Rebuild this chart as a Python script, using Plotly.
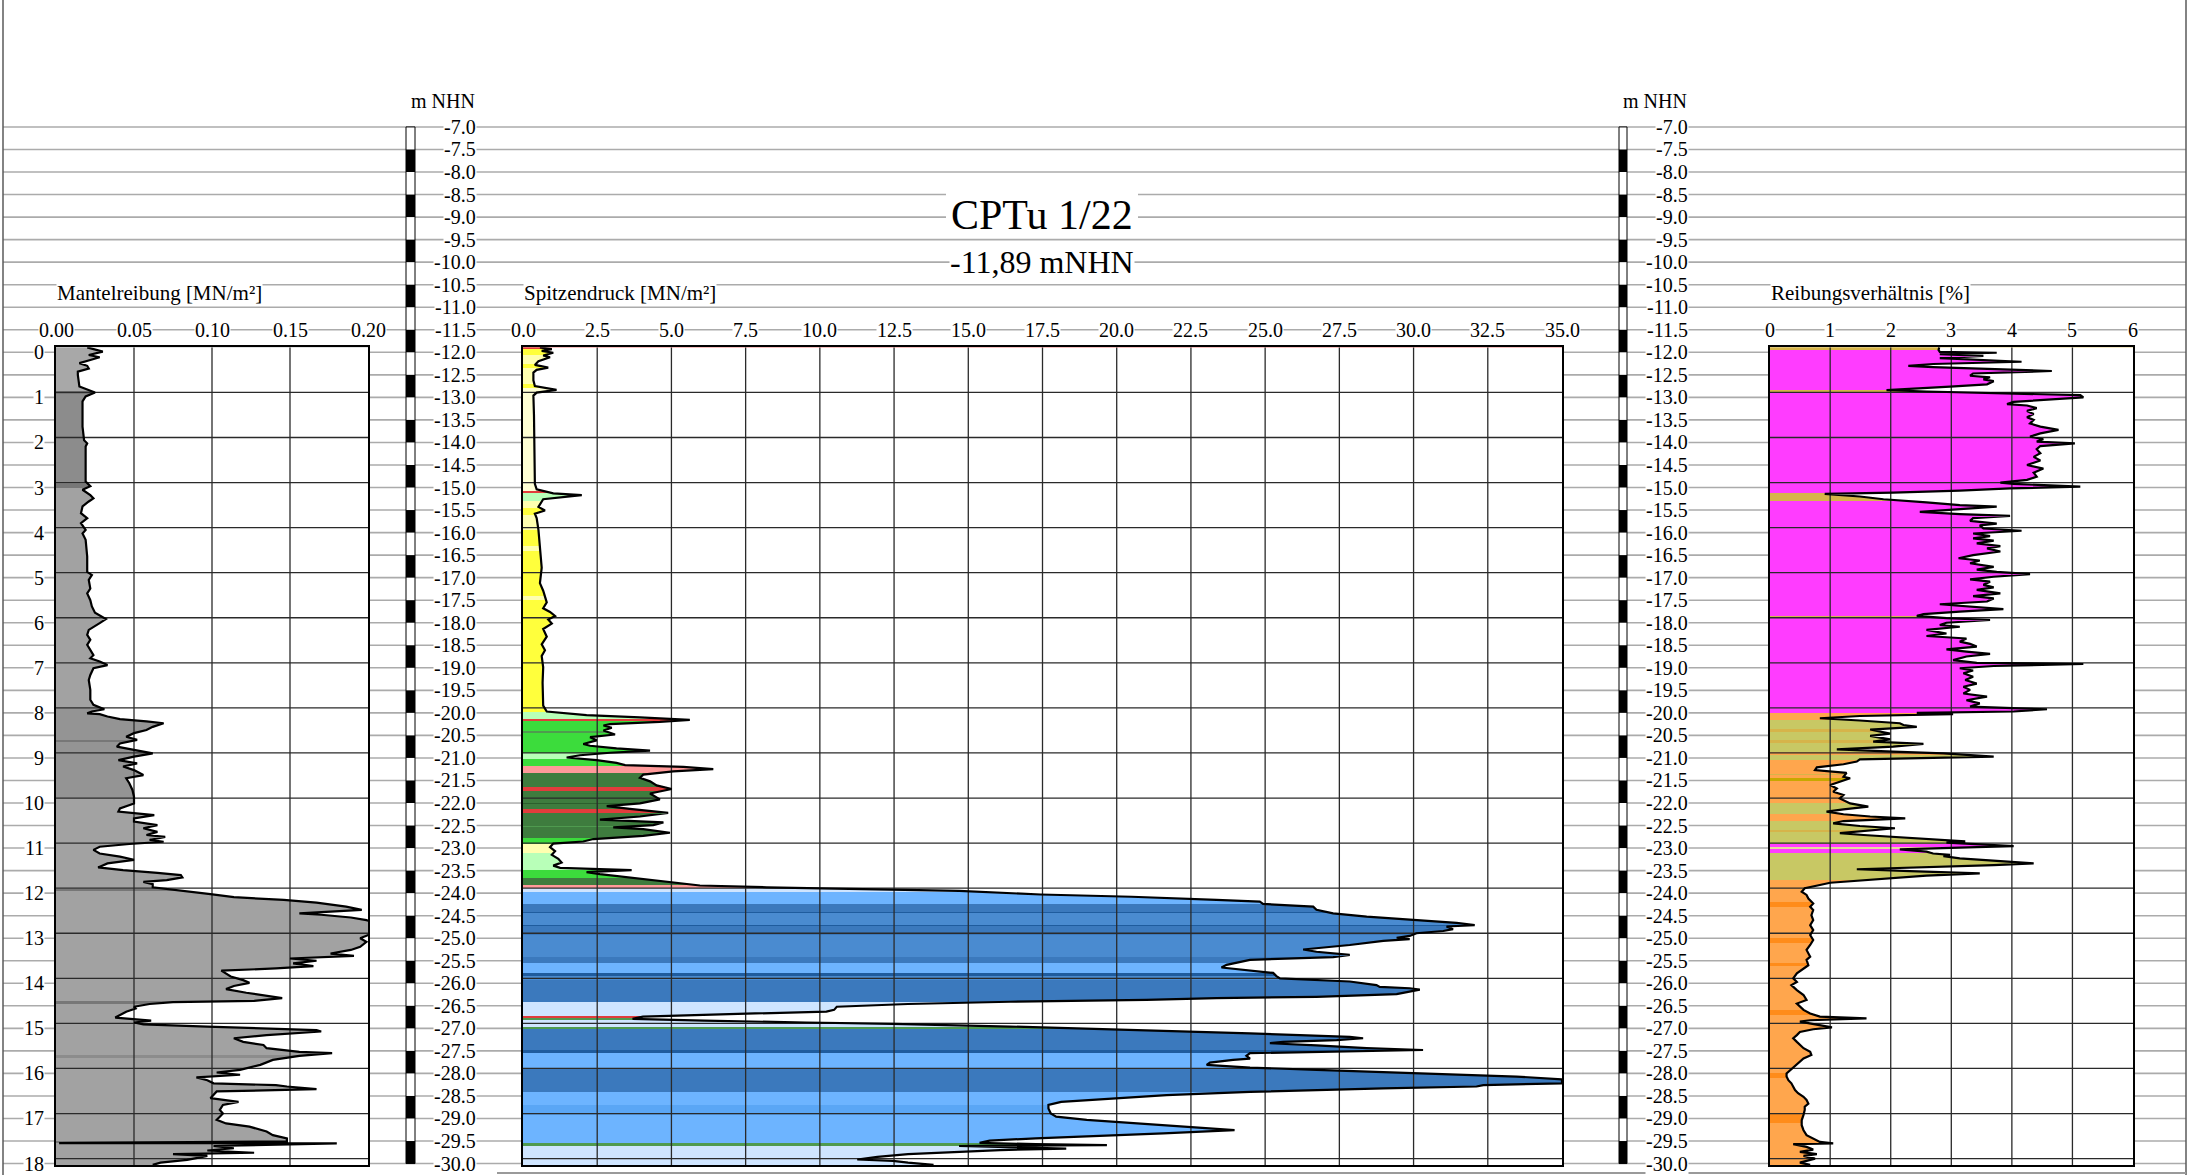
import plotly.graph_objects as go

# ---------------------------------------------------------------- data
START_ELEV = -11.89   # mNHN at depth 0 (ground level of CPTu 1/22)
END_ELEV = -30.03     # bottom of the log

# Mantelreibung fs [MN/m²] : (elevation mNHN, value)
fs_points = [
    (-11.89, 0.020), (-11.985, 0.030), (-12.06, 0.021), (-12.11, 0.028), (-12.17, 0.022), (-12.24, 0.015),
    (-12.30, 0.020), (-12.36, 0.021), (-12.43, 0.014), (-12.50, 0.014), (-12.76, 0.015), (-12.82, 0.020),
    (-12.89, 0.025), (-12.98, 0.019), (-13.09, 0.017), (-13.65, 0.017), (-13.95, 0.018), (-14.02, 0.020),
    (-14.09, 0.019), (-14.68, 0.019), (-14.87, 0.019), (-14.97, 0.022), (-15.05, 0.017), (-15.17, 0.022),
    (-15.24, 0.024), (-15.31, 0.021), (-15.42, 0.017), (-15.57, 0.016), (-15.68, 0.020), (-15.79, 0.016),
    (-15.94, 0.019), (-16.02, 0.017), (-16.16, 0.019), (-16.53, 0.020), (-16.87, 0.020), (-16.94, 0.023),
    (-17.05, 0.021), (-17.24, 0.022), (-17.35, 0.020), (-17.50, 0.022), (-17.64, 0.023), (-17.78, 0.025),
    (-17.87, 0.030), (-17.92, 0.032), (-18.01, 0.028), (-18.09, 0.024), (-18.16, 0.021), (-18.27, 0.020),
    (-18.38, 0.022), (-18.49, 0.020), (-18.60, 0.022), (-18.72, 0.024), (-18.79, 0.022), (-18.86, 0.028),
    (-18.94, 0.033), (-19.01, 0.024), (-19.16, 0.022), (-19.27, 0.021), (-19.49, 0.022), (-19.71, 0.022),
    (-19.82, 0.024), (-19.92, 0.031), (-19.97, 0.023), (-20.01, 0.020), (-20.03, 0.028), (-20.08, 0.033),
    (-20.14, 0.041), (-20.16, 0.050), (-20.19, 0.058), (-20.23, 0.069), (-20.31, 0.062), (-20.38, 0.058),
    (-20.45, 0.050), (-20.53, 0.045), (-20.60, 0.052), (-20.68, 0.041), (-20.75, 0.039), (-20.82, 0.050),
    (-20.90, 0.062), (-20.97, 0.050), (-21.05, 0.040), (-21.12, 0.052), (-21.19, 0.043), (-21.27, 0.050),
    (-21.38, 0.056), (-21.45, 0.045), (-21.56, 0.047), (-21.71, 0.049), (-21.86, 0.050), (-22.01, 0.050),
    (-22.12, 0.041), (-22.19, 0.040), (-22.27, 0.063), (-22.34, 0.050), (-22.41, 0.050), (-22.49, 0.065),
    (-22.56, 0.056), (-22.64, 0.065), (-22.71, 0.058), (-22.75, 0.070), (-22.82, 0.060), (-22.86, 0.069),
    (-22.91, 0.047), (-22.97, 0.028), (-23.04, 0.024), (-23.12, 0.028), (-23.19, 0.041), (-23.26, 0.050),
    (-23.34, 0.033), (-23.43, 0.027), (-23.49, 0.043), (-23.55, 0.065), (-23.60, 0.080), (-23.65, 0.081),
    (-23.71, 0.071), (-23.75, 0.056), (-23.80, 0.062), (-23.87, 0.062), (-23.92, 0.075), (-23.97, 0.088),
    (-24.02, 0.099), (-24.09, 0.114), (-24.15, 0.146), (-24.21, 0.167), (-24.30, 0.186), (-24.37, 0.196),
    (-24.45, 0.156), (-24.48, 0.170), (-24.54, 0.189), (-24.60, 0.199), (-24.67, 0.205), (-24.89, 0.203),
    (-25.00, 0.195), (-25.08, 0.199), (-25.19, 0.195), (-25.26, 0.189), (-25.34, 0.176), (-25.39, 0.191),
    (-25.45, 0.150), (-25.50, 0.167), (-25.56, 0.152), (-25.62, 0.165), (-25.67, 0.141), (-25.72, 0.106),
    (-25.78, 0.109), (-25.85, 0.112), (-25.93, 0.120), (-25.99, 0.124), (-26.06, 0.114), (-26.13, 0.109),
    (-26.21, 0.122), (-26.28, 0.135), (-26.33, 0.145), (-26.39, 0.127), (-26.42, 0.075), (-26.46, 0.060),
    (-26.52, 0.050), (-26.56, 0.051), (-26.63, 0.045), (-26.76, 0.038), (-26.80, 0.054), (-26.83, 0.061),
    (-26.87, 0.050), (-26.91, 0.056), (-26.96, 0.097), (-27.00, 0.135), (-27.04, 0.167), (-27.07, 0.170),
    (-27.15, 0.135), (-27.22, 0.114), (-27.30, 0.120), (-27.37, 0.133), (-27.44, 0.135), (-27.52, 0.156),
    (-27.55, 0.177), (-27.61, 0.156), (-27.70, 0.139), (-27.81, 0.131), (-27.92, 0.118), (-27.98, 0.103),
    (-28.03, 0.118), (-28.09, 0.090), (-28.15, 0.097), (-28.22, 0.101), (-28.26, 0.141), (-28.29, 0.148),
    (-28.35, 0.167), (-28.40, 0.103), (-28.48, 0.101), (-28.55, 0.099), (-28.63, 0.117), (-28.70, 0.107),
    (-28.81, 0.105), (-28.89, 0.107), (-28.96, 0.105), (-29.03, 0.103), (-29.11, 0.109), (-29.18, 0.124),
    (-29.29, 0.135), (-29.37, 0.139), (-29.44, 0.148), (-29.51, 0.148), (-29.545, 0.002), (-29.55, 0.180),
    (-29.61, 0.101), (-29.66, 0.114), (-29.71, 0.097), (-29.76, 0.127), (-29.79, 0.075), (-29.83, 0.097),
    (-29.88, 0.090), (-29.92, 0.084), (-29.98, 0.067), (-30.03, 0.062),
]

# Spitzendruck qc [MN/m²]
qc_points = [
    (-11.89, 0.57), (-11.93, 0.97), (-11.97, 0.63), (-12.01, 1.02), (-12.07, 0.68), (-12.11, 0.91),
    (-12.20, 0.52), (-12.28, 0.40), (-12.34, 0.85), (-12.39, 0.46), (-12.45, 0.35), (-12.62, 0.35),
    (-12.75, 0.40), (-12.835, 1.13), (-12.895, 0.46), (-12.96, 0.35), (-13.39, 0.37), (-14.24, 0.40),
    (-14.92, 0.40), (-15.04, 0.46), (-15.13, 1.02), (-15.17, 1.98), (-15.21, 1.30), (-15.26, 0.68),
    (-15.43, 0.52), (-15.51, 0.74), (-15.58, 0.40), (-15.68, 0.46), (-15.94, 0.52), (-16.36, 0.57),
    (-16.78, 0.63), (-17.12, 0.57), (-17.29, 0.68), (-17.55, 0.80), (-17.68, 0.68), (-17.76, 0.91),
    (-17.85, 1.08), (-17.93, 0.85), (-18.02, 0.97), (-18.14, 0.68), (-18.31, 0.80), (-18.48, 0.63),
    (-18.61, 0.74), (-18.74, 0.63), (-18.99, 0.68), (-19.33, 0.66), (-19.84, 0.68), (-19.97, 0.80),
    (-20.05, 2.14), (-20.10, 3.94), (-20.155, 5.62), (-20.20, 4.61), (-20.25, 2.93), (-20.28, 2.71),
    (-20.33, 2.99), (-20.39, 2.71), (-20.48, 3.10), (-20.54, 2.26), (-20.61, 2.48), (-20.69, 2.03),
    (-20.73, 2.26), (-20.79, 3.15), (-20.84, 4.28), (-20.885, 2.93), (-20.94, 1.92), (-20.99, 1.47),
    (-21.05, 2.48), (-21.11, 3.15), (-21.16, 3.44), (-21.20, 5.40), (-21.25, 6.41), (-21.30, 5.06),
    (-21.37, 4.05), (-21.44, 3.94), (-21.52, 4.28), (-21.61, 4.50), (-21.69, 5.01), (-21.79, 4.28),
    (-21.88, 4.50), (-21.92, 4.61), (-22.01, 3.94), (-22.07, 2.82), (-22.13, 3.60), (-22.22, 4.89),
    (-22.30, 3.94), (-22.37, 2.59), (-22.43, 4.73), (-22.49, 4.39), (-22.54, 3.04), (-22.58, 4.05),
    (-22.66, 4.95), (-22.73, 4.05), (-22.80, 2.37), (-22.855, 2.03), (-22.90, 1.02), (-22.98, 0.91),
    (-23.07, 1.08), (-23.15, 0.97), (-23.24, 1.19), (-23.32, 1.30), (-23.39, 1.02), (-23.44, 1.25),
    (-23.49, 3.66), (-23.535, 2.14), (-23.58, 2.59), (-23.66, 3.72), (-23.75, 4.84), (-23.83, 5.96),
    (-23.87, 8.21), (-23.92, 12.70), (-23.95, 14.69), (-24.03, 17.44), (-24.08, 20.50), (-24.15, 23.36),
    (-24.19, 24.82), (-24.24, 24.93), (-24.30, 26.62), (-24.37, 26.73), (-24.45, 27.29), (-24.52, 28.42),
    (-24.60, 30.10), (-24.66, 31.45), (-24.71, 32.06), (-24.74, 31.11), (-24.80, 31.33), (-24.84, 31.00),
    (-24.89, 30.10), (-24.95, 29.87), (-24.99, 29.43), (-25.02, 29.87), (-25.06, 28.98), (-25.15, 27.85),
    (-25.25, 26.28), (-25.30, 26.73), (-25.37, 27.85), (-25.42, 27.29), (-25.48, 24.49), (-25.59, 23.70),
    (-25.65, 23.53), (-25.71, 24.49), (-25.77, 25.27), (-25.84, 25.38), (-25.89, 25.50), (-25.96, 27.85),
    (-26.04, 28.75), (-26.08, 28.86), (-26.11, 29.87), (-26.14, 30.21), (-26.19, 29.76), (-26.24, 29.43),
    (-26.30, 26.73), (-26.33, 23.36), (-26.37, 21.00), (-26.41, 16.41), (-26.46, 12.97), (-26.52, 10.57),
    (-26.59, 10.48), (-26.63, 10.22), (-26.67, 7.82), (-26.71, 5.24), (-26.74, 4.04), (-26.79, 3.69),
    (-26.83, 6.10), (-26.87, 9.54), (-26.90, 12.46), (-26.96, 16.41), (-27.02, 19.85), (-27.07, 22.50),
    (-27.11, 24.49), (-27.15, 26.17), (-27.19, 27.85), (-27.22, 28.30), (-27.26, 27.41), (-27.30, 25.61),
    (-27.33, 25.16), (-27.38, 26.73), (-27.44, 28.42), (-27.48, 30.32), (-27.52, 26.73), (-27.55, 24.49),
    (-27.61, 24.37), (-27.67, 24.49), (-27.70, 23.92), (-27.76, 23.14), (-27.81, 23.03), (-27.87, 24.49),
    (-27.92, 26.73), (-28.00, 30.10), (-28.07, 33.47), (-28.13, 35.00), (-28.22, 35.00), (-28.26, 32.35),
    (-28.29, 32.12), (-28.33, 28.98), (-28.41, 24.49), (-28.48, 21.68), (-28.55, 19.85), (-28.63, 18.13),
    (-28.70, 17.70), (-28.78, 17.70), (-28.89, 17.78), (-28.96, 17.96), (-29.03, 18.99), (-29.11, 20.71),
    (-29.18, 22.42), (-29.26, 23.97), (-29.33, 21.57), (-29.39, 18.99), (-29.44, 17.27), (-29.49, 15.72),
    (-29.54, 15.38), (-29.57, 17.27), (-29.59, 19.67), (-29.61, 14.69), (-29.64, 16.41), (-29.67, 18.30),
    (-29.70, 16.07), (-29.74, 14.69), (-29.79, 12.97), (-29.85, 11.94), (-29.91, 11.26), (-29.94, 12.46),
    (-29.98, 12.97), (-30.03, 13.83),
]

# Reibungsverhältnis Rf [%]
rf_points = [
    (-11.89, 2.80), (-11.95, 2.79), (-11.99, 2.81), (-12.01, 3.75), (-12.04, 2.81), (-12.08, 3.53),
    (-12.13, 2.81), (-12.21, 4.16), (-12.26, 2.70), (-12.30, 2.29), (-12.33, 2.70), (-12.38, 3.70),
    (-12.415, 4.66), (-12.47, 3.36), (-12.52, 3.31), (-12.555, 3.64), (-12.60, 3.53), (-12.64, 3.70),
    (-12.67, 3.64), (-12.71, 3.59), (-12.76, 2.98), (-12.80, 2.32), (-12.84, 1.93), (-12.87, 2.59),
    (-12.91, 4.03), (-12.95, 5.13), (-13.00, 5.18), (-13.04, 4.69), (-13.10, 4.03), (-13.15, 3.92),
    (-13.18, 4.25), (-13.24, 4.41), (-13.30, 4.25), (-13.37, 4.36), (-13.44, 4.25), (-13.50, 4.36),
    (-13.58, 4.30), (-13.65, 4.47), (-13.72, 4.77), (-13.80, 4.47), (-13.87, 4.30), (-13.93, 4.52),
    (-13.98, 4.41), (-14.02, 5.04), (-14.08, 4.47), (-14.15, 4.41), (-14.24, 4.47), (-14.32, 4.36),
    (-14.40, 4.47), (-14.50, 4.25), (-14.58, 4.52), (-14.67, 4.36), (-14.76, 4.41), (-14.83, 4.25),
    (-14.89, 3.81), (-14.92, 4.03), (-14.98, 5.13), (-15.02, 3.97), (-15.07, 3.14), (-15.115, 2.04),
    (-15.14, 0.91), (-15.20, 1.49), (-15.26, 1.88), (-15.33, 2.59), (-15.39, 3.14), (-15.425, 3.75),
    (-15.485, 3.14), (-15.54, 2.48), (-15.59, 3.14), (-15.63, 3.97), (-15.68, 3.36), (-15.74, 3.31),
    (-15.80, 3.75), (-15.84, 3.47), (-15.91, 3.53), (-15.96, 4.16), (-16.02, 3.36), (-16.08, 3.64),
    (-16.13, 3.36), (-16.18, 3.70), (-16.24, 3.42), (-16.30, 3.81), (-16.35, 3.59), (-16.42, 3.81),
    (-16.50, 3.36), (-16.57, 3.12), (-16.62, 3.47), (-16.68, 3.31), (-16.76, 3.70), (-16.82, 3.42),
    (-16.87, 3.75), (-16.92, 4.30), (-16.98, 3.70), (-17.04, 3.31), (-17.09, 3.64), (-17.16, 3.53),
    (-17.215, 3.70), (-17.27, 3.42), (-17.35, 3.81), (-17.41, 3.36), (-17.46, 3.70), (-17.53, 3.59),
    (-17.59, 2.81), (-17.64, 3.36), (-17.70, 3.86), (-17.755, 3.14), (-17.81, 2.54), (-17.85, 2.43),
    (-17.90, 2.92), (-17.94, 3.64), (-18.00, 2.92), (-18.05, 2.81), (-18.09, 3.14), (-18.16, 2.59),
    (-18.24, 2.92), (-18.295, 2.59), (-18.35, 3.25), (-18.42, 3.14), (-18.47, 3.31), (-18.53, 3.42),
    (-18.59, 2.92), (-18.64, 3.25), (-18.69, 3.64), (-18.75, 3.25), (-18.83, 3.03), (-18.89, 3.42),
    (-18.916, 5.18), (-18.96, 3.70), (-19.01, 3.14), (-19.06, 3.36), (-19.12, 3.20), (-19.20, 3.36),
    (-19.27, 3.23), (-19.35, 3.42), (-19.42, 3.20), (-19.49, 3.31), (-19.57, 3.20), (-19.64, 3.59),
    (-19.72, 3.25), (-19.79, 3.47), (-19.86, 3.31), (-19.92, 4.58), (-19.97, 4.03), (-20.00, 2.43),
    (-20.026, 3.03), (-20.07, 1.49), (-20.12, 0.83), (-20.17, 1.49), (-20.23, 2.15), (-20.27, 2.21),
    (-20.31, 2.43), (-20.37, 1.66), (-20.46, 1.99), (-20.51, 1.66), (-20.59, 1.99), (-20.64, 1.71),
    (-20.69, 2.54), (-20.75, 2.04), (-20.81, 1.11), (-20.86, 2.04), (-20.90, 2.87), (-20.97, 3.70),
    (-21.03, 1.49), (-21.08, 1.44), (-21.14, 1.22), (-21.21, 0.78), (-21.27, 0.75), (-21.33, 1.27),
    (-21.42, 1.22), (-21.45, 1.33), (-21.53, 1.16), (-21.60, 1.00), (-21.68, 1.11), (-21.75, 1.05),
    (-21.82, 1.22), (-21.90, 1.16), (-22.01, 1.33), (-22.08, 1.63), (-22.14, 1.22), (-22.19, 0.94),
    (-22.25, 1.22), (-22.30, 1.66), (-22.34, 2.24), (-22.40, 1.22), (-22.45, 1.05), (-22.51, 1.49),
    (-22.56, 2.07), (-22.62, 1.60), (-22.67, 1.16), (-22.71, 1.55), (-22.75, 2.04), (-22.79, 2.59),
    (-22.82, 2.92), (-22.85, 3.23), (-22.88, 2.92), (-22.92, 3.47), (-22.955, 4.03), (-22.98, 3.42),
    (-23.03, 2.15), (-23.08, 2.59), (-23.12, 2.70), (-23.15, 2.98), (-23.18, 2.87), (-23.23, 3.14),
    (-23.28, 3.70), (-23.34, 4.36), (-23.38, 3.70), (-23.43, 2.59), (-23.47, 1.44), (-23.51, 2.32),
    (-23.56, 3.47), (-23.61, 2.59), (-23.67, 1.93), (-23.72, 1.49), (-23.77, 1.00), (-23.82, 0.83),
    (-23.89, 0.58), (-23.97, 0.53), (-24.04, 0.61), (-24.12, 0.64), (-24.23, 0.72), (-24.30, 0.67),
    (-24.375, 0.72), (-24.49, 0.69), (-24.60, 0.72), (-24.71, 0.67), (-24.82, 0.72), (-24.93, 0.67),
    (-25.04, 0.72), (-25.15, 0.67), (-25.26, 0.61), (-25.41, 0.67), (-25.48, 0.61), (-25.60, 0.64),
    (-25.67, 0.56), (-25.78, 0.45), (-25.89, 0.39), (-25.97, 0.45), (-26.04, 0.36), (-26.15, 0.45),
    (-26.26, 0.56), (-26.37, 0.61), (-26.45, 0.45), (-26.52, 0.50), (-26.59, 0.56), (-26.67, 0.67),
    (-26.74, 0.83), (-26.78, 1.60), (-26.82, 0.67), (-26.85, 0.50), (-26.93, 0.83), (-26.98, 1.03),
    (-27.02, 0.72), (-27.08, 0.50), (-27.15, 0.45), (-27.22, 0.39), (-27.30, 0.45), (-27.37, 0.50),
    (-27.44, 0.56), (-27.52, 0.67), (-27.59, 0.69), (-27.67, 0.56), (-27.74, 0.50), (-27.81, 0.45),
    (-27.89, 0.39), (-28.00, 0.28), (-28.07, 0.28), (-28.15, 0.31), (-28.22, 0.36), (-28.30, 0.39),
    (-28.37, 0.42), (-28.44, 0.47), (-28.52, 0.56), (-28.59, 0.61), (-28.67, 0.64), (-28.74, 0.58),
    (-28.81, 0.58), (-28.92, 0.56), (-29.04, 0.53), (-29.15, 0.53), (-29.26, 0.56), (-29.37, 0.61),
    (-29.44, 0.72), (-29.52, 0.83), (-29.55, 1.05), (-29.57, 0.39), (-29.63, 0.61), (-29.69, 0.72),
    (-29.74, 0.50), (-29.79, 0.78), (-29.83, 0.56), (-29.89, 0.75), (-29.94, 0.61), (-29.98, 0.50),
    (-30.03, 0.67),
]

# soil-classification colour bands (band i spans edges[i] .. edges[i+1])
COL = {
    'R': '#e23c3c', 'Y': '#ffff3c', 'LY': '#ffffb0', 'PY': '#ffffd4', 'PG': '#b8ffb8',
    'G': '#3cdc3c', 'MG': '#4f9a4f', 'DG': '#3e7c3e', 'DDG': '#2d5f2d', 'PK': '#ff9a9a',
    'PB': '#cfe5ff', 'LB': '#6db4ff', 'SB': '#5aa6f5', 'MB': '#4a8bd0', 'DB': '#3b79bd', 'NB': '#1f5c9e',
    'M': '#ff3cff', 'T': '#d6b44a', 'OL': '#c8c864', 'AU': '#c8a800', 'LK': '#e8d8a0',
    'O': '#ffa64d', 'DO': '#ff8c1a',
    'G1': '#a8a8a8', 'G2': '#8c8c8c', 'G3': '#777777', 'G4': '#a2a2a2', 'G5': '#949494',
}

fs_band_edges = [-11.89, -12.85, -12.92, -14.92, -15.00, -19.90, -20.60, -20.65, -21.90, -23.90, -23.95,
                 -26.40, -26.45, -27.60, -27.65, -29.50, -29.55, -30.03]
fs_band_classes = ['G1', 'G3', 'G2', 'G3', 'G4', 'G5', 'G3', 'G5', 'G4', 'G3', 'G4', 'G3', 'G4', 'G2', 'G4',
                   'G3', 'G4']

qc_band_edges = [-11.89, -11.93, -12.05, -12.25, -12.35, -12.70, -12.80, -15.08, -15.13, -15.30, -15.45,
                 -15.60, -15.94, -16.30, -16.40, -17.40, -17.50, -19.97, -20.14, -20.18, -20.40, -20.45,
                 -20.90, -21.03, -21.18, -21.34, -21.64, -21.73, -22.00, -22.03, -22.14, -22.22, -22.50,
                 -22.53, -22.77, -22.90, -23.11, -23.49, -23.66, -23.83, -23.88, -23.97, -24.23, -24.42,
                 -24.45, -24.71, -24.74, -24.93, -25.41, -25.56, -25.78, -25.84, -25.93, -26.41, -26.72,
                 -26.76, -26.82, -26.96, -27.02, -27.48, -27.55, -27.89, -28.41, -28.70, -28.92, -29.55,
                 -29.60, -30.03]
qc_band_classes = ['R', 'Y', 'LY', 'Y', 'LY', 'Y', 'PY', 'R', 'PG', 'LY', 'Y',
                   'LY', 'Y', 'LY', 'Y', 'LY', 'Y', 'PG', 'R', 'G', 'MG',
                   'G', 'PG', 'G', 'PK', 'DG', 'R', 'DG', 'DDG', 'DG', 'R', 'DG',
                   'MG', 'DG', 'G', 'LY', 'PG', 'G', 'DG', 'PK', 'PB', 'LB', 'DB',
                   'NB', 'MB', 'NB', 'DB', 'MB', 'DB', 'LB', 'NB', 'MB', 'DB', 'PB',
                   'R', 'MG', 'PB', 'MG', 'DB', 'NB', 'LB', 'DB', 'LB', 'SB', 'LB',
                   'MG', 'PB']

rf_band_edges = [-11.89, -11.95, -12.84, -12.88, -15.12, -15.30, -17.84, -17.87, -20.01, -20.15, -20.35,
                 -20.42, -20.60, -20.66, -20.87, -20.93, -21.05, -21.35, -21.38, -21.45, -21.52, -22.00,
                 -22.25, -22.40, -22.60, -22.65, -22.92, -22.97, -23.02, -23.10, -23.70, -24.20, -24.30,
                 -25.00, -25.10, -25.55, -25.62, -26.60, -26.70, -28.00, -28.10, -28.90, -29.10, -30.03]
rf_band_classes = ['T', 'M', 'T', 'M', 'T', 'M', 'T', 'M', 'O', 'OL',
                   'T', 'OL', 'T', 'OL', 'O', 'OL', 'O', 'T', 'O', 'AU', 'O',
                   'OL', 'O', 'OL', 'T', 'OL', 'M', 'LK', 'M', 'OL', 'O', 'DO',
                   'O', 'DO', 'O', 'DO', 'O', 'DO', 'O', 'DO', 'O', 'DO', 'O']

fs_ticks = [0.0, 0.05, 0.10, 0.15, 0.20]
fs_ticktext = ["0.00", "0.05", "0.10", "0.15", "0.20"]
qc_ticks = [0.0, 2.5, 5.0, 7.5, 10.0, 12.5, 15.0, 17.5, 20.0, 22.5, 25.0, 27.5, 30.0, 32.5, 35.0]
qc_ticktext = ["0.0", "2.5", "5.0", "7.5", "10.0", "12.5", "15.0", "17.5", "20.0", "22.5", "25.0",
               "27.5", "30.0", "32.5", "35.0"]
rf_ticks = [0, 1, 2, 3, 4, 5, 6]
rf_ticktext = ["0", "1", "2", "3", "4", "5", "6"]

nhn_levels = [-7.0, -7.5, -8.0, -8.5, -9.0, -9.5, -10.0, -10.5, -11.0, -11.5, -12.0, -12.5, -13.0, -13.5,
              -14.0, -14.5, -15.0, -15.5, -16.0, -16.5, -17.0, -17.5, -18.0, -18.5, -19.0, -19.5, -20.0,
              -20.5, -21.0, -21.5, -22.0, -22.5, -23.0, -23.5, -24.0, -24.5, -25.0, -25.5, -26.0, -26.5,
              -27.0, -27.5, -28.0, -28.5, -29.0, -29.5, -30.0]
depth_label_levels = [-12.0, -13.0, -14.0, -15.0, -16.0, -17.0, -18.0, -19.0, -20.0, -21.0, -22.0, -23.0,
                      -24.0, -25.0, -26.0, -27.0, -28.0, -29.0, -30.0]
depth_labels = ["0", "1", "2", "3", "4", "5", "6", "7", "8", "9", "10", "11", "12", "13", "14", "15",
                "16", "17", "18"]
depth_grid = [1, 2, 3, 4, 5, 6, 7, 8, 9, 10, 11, 12, 13, 14, 15, 16, 17, 18]

title_text = "CPTu 1/22"
subtitle_text = "-11,89 mNHN"

# ---------------------------------------------------------------- layout geometry
W, H = 2190, 1175
Y_M12 = 352.3      # pixel row of -12.0 mNHN
PX_PER_M = 45.07   # pixels per metre
PAGE_TOP = -12.0 + Y_M12 / PX_PER_M
PAGE_BOT = -12.0 - (H - Y_M12) / PX_PER_M


def py(nhn):
    return Y_M12 + (-12.0 - nhn) * PX_PER_M


def fy(nhn):
    return 1 - py(nhn) / H


def fx(px):
    return px / W


FONT = "Liberation Serif"
NUM_SIZE = 20

panels = [
    dict(ax='', px0=56, px1=368, rng=[0, 0.20], pts=fs_points, edges=fs_band_edges, cls=fs_band_classes,
         ticks=fs_ticks, ticktext=fs_ticktext, title="Mantelreibung [MN/m²]"),
    dict(ax='2', px0=523, px1=1562, rng=[0, 35], pts=qc_points, edges=qc_band_edges, cls=qc_band_classes,
         ticks=qc_ticks, ticktext=qc_ticktext, title="Spitzendruck [MN/m²]"),
    dict(ax='3', px0=1769.6, px1=2133, rng=[0, 6], pts=rf_points, edges=rf_band_edges, cls=rf_band_classes,
         ticks=rf_ticks, ticktext=rf_ticktext, title="Reibungsverhältnis [%]"),
]

fig = go.Figure()
layout_axes = {}
annotations = []
shapes = []

# background page grid (mNHN lines)
for lv in nhn_levels:
    shapes.append(dict(type='line', xref='paper', yref='y4', x0=fx(3), x1=fx(2186), y0=lv, y1=lv,
                       line=dict(color='#ababab', width=1.6), layer='below'))
# page frame
for xp in (3, 2186):
    shapes.append(dict(type='line', xref='paper', yref='paper', x0=fx(xp), x1=fx(xp), y0=0, y1=1,
                       line=dict(color='#5a5a5a', width=1.5), layer='below'))
shapes.append(dict(type='line', xref='paper', yref='paper', x0=fx(497), x1=fx(2186),
                   y0=1 - 1173 / H, y1=1 - 1173 / H, line=dict(color='#9a9a9a', width=2), layer='below'))

# white panel backgrounds (hide page lines)
for p in panels:
    shapes.append(dict(type='rect', xref='paper', yref='y4', x0=fx(p['px0']), x1=fx(p['px1']),
                       y0=END_ELEV, y1=START_ELEV, fillcolor='white', line=dict(width=0), layer='below'))
# white block behind the title
shapes.append(dict(type='rect', xref='paper', yref='y4', x0=fx(946), x1=fx(1138), y0=-9.28, y1=-8.36,
                   fillcolor='white', line=dict(width=0), layer='below'))

# elevation scale bars
for bx0, bx1 in ((406, 415), (1619, 1627)):
    shapes.append(dict(type='rect', xref='paper', yref='y4', x0=fx(bx0), x1=fx(bx1),
                       y0=nhn_levels[-1], y1=nhn_levels[0], fillcolor='white',
                       line=dict(color='black', width=1), layer='below'))
    for top, bot in zip(nhn_levels[1::2], nhn_levels[2::2]):
        shapes.append(dict(type='rect', xref='paper', yref='y4', x0=fx(bx0), x1=fx(bx1),
                           y0=bot, y1=top, fillcolor='black', line=dict(width=0), layer='below'))

for p in panels:
    xa, ya = 'x' + p['ax'], 'y' + p['ax']
    xmax = p['rng'][1]
    elev = [e for e, v in p['pts']]
    val = [v for e, v in p['pts']]
    edges = p['edges']
    centers = [(a + b) / 2 for a, b in zip(edges[:-1], edges[1:])]
    widths = [a - b for a, b in zip(edges[:-1], edges[1:])]
    colors = [COL[c] for c in p['cls']]
    # colour bands
    fig.add_trace(go.Bar(orientation='h', x=[xmax] * len(centers), y=centers, width=widths, base=0,
                         marker=dict(color=colors, line=dict(width=0)), xaxis=xa, yaxis=ya,
                         hoverinfo='skip', showlegend=False))
    # white mask right of the curve
    big = xmax * 3
    fig.add_trace(go.Scatter(x=val + [big, big], y=elev + [elev[-1], elev[0]], fill='toself',
                             fillcolor='white', mode='none', xaxis=xa, yaxis=ya, hoverinfo='skip',
                             showlegend=False))
    # grid on top of fill
    gx, gy = [], []
    for t in p['ticks'][1:-1]:
        gx += [t, t, None]
        gy += [START_ELEV, END_ELEV, None]
    for d in depth_grid:
        lv = START_ELEV - d
        if lv > END_ELEV:
            gx += [0, xmax, None]
            gy += [lv, lv, None]
    fig.add_trace(go.Scatter(x=gx, y=gy, mode='lines', line=dict(color='#2a2a2a', width=1.3),
                             xaxis=xa, yaxis=ya, hoverinfo='skip', showlegend=False))
    # measured curve
    fig.add_trace(go.Scatter(x=val, y=elev, mode='lines', line=dict(color='black', width=2.2),
                             xaxis=xa, yaxis=ya, showlegend=False))

    axstyle = dict(showgrid=False, zeroline=False, showticklabels=False, ticks='', showline=True,
                   mirror=True, linecolor='black', linewidth=2, fixedrange=True)
    layout_axes['xaxis' + p['ax']] = dict(domain=[fx(p['px0']), fx(p['px1'])], range=p['rng'],
                                         anchor=ya, **axstyle)
    layout_axes['yaxis' + p['ax']] = dict(domain=[fy(END_ELEV), fy(START_ELEV)],
                                         range=[END_ELEV, START_ELEV], anchor=xa, **axstyle)

    # tick labels along the -11.5 line
    for t, txt in zip(p['ticks'], p['ticktext']):
        annotations.append(dict(x=t, y=-11.5, xref=xa, yref='y4', text=txt, showarrow=False,
                                xanchor='center', yanchor='middle', bgcolor='white', borderpad=0,
                                font=dict(family=FONT, size=NUM_SIZE, color='black')))
    # axis title
    annotations.append(dict(x=fx(p['px0']), y=-10.69, xref='paper', yref='y4', text=p['title'],
                            showarrow=False, xanchor='left', yanchor='middle', bgcolor='white', borderpad=0,
                            font=dict(family=FONT, size=21, color='black')))

# full-page reference axes
fig.add_trace(go.Scatter(x=[0], y=[PAGE_TOP], mode='markers', marker=dict(opacity=0), xaxis='x4',
                         yaxis='y4', hoverinfo='skip', showlegend=False))
layout_axes['xaxis4'] = dict(domain=[0, 1], range=[0, W], anchor='y4', visible=False, fixedrange=True)
layout_axes['yaxis4'] = dict(domain=[0, 1], range=[PAGE_BOT, PAGE_TOP], anchor='x4', visible=False,
                             fixedrange=True)

# elevation labels on both scales
for xr in (477, 1689):
    for lv in nhn_levels:
        annotations.append(dict(x=fx(xr), y=lv, xref='paper', yref='y4', text=f"{lv:.1f}", showarrow=False,
                                xanchor='right', yanchor='middle', bgcolor='white', borderpad=0,
                                font=dict(family=FONT, size=NUM_SIZE, color='black')))
    annotations.append(dict(x=fx(xr), y=-6.42, xref='paper', yref='y4', text="m NHN", showarrow=False,
                            xanchor='right', yanchor='middle',
                            font=dict(family=FONT, size=NUM_SIZE, color='black')))

# depth labels of the left log
for lv, txt in zip(depth_label_levels, depth_labels):
    annotations.append(dict(x=fx(45), y=lv, xref='paper', yref='y4', text=txt, showarrow=False,
                            xanchor='right', yanchor='middle', bgcolor='white', borderpad=0,
                            font=dict(family=FONT, size=NUM_SIZE, color='black')))

# title block
annotations.append(dict(x=fx(1041.6), y=-8.95, xref='paper', yref='y4', text=title_text, showarrow=False,
                        xanchor='center', yanchor='middle',
                        font=dict(family=FONT, size=42, color='black')))
annotations.append(dict(x=fx(1041.6), y=-10.0, xref='paper', yref='y4', text=subtitle_text, showarrow=False,
                        xanchor='center', yanchor='middle', bgcolor='white', borderpad=0,
                        font=dict(family=FONT, size=32, color='black')))

fig.update_layout(width=W, height=H, margin=dict(l=0, r=0, t=0, b=0), paper_bgcolor='white',
                  plot_bgcolor='rgba(0,0,0,0)', barmode='overlay', bargap=0, showlegend=False,
                  shapes=shapes, annotations=annotations, **layout_axes)

fig.write_html("out.html", config={'displayModeBar': False, 'staticPlot': True},
               post_script="document.body.style.margin='0';document.body.style.overflow='hidden';")
